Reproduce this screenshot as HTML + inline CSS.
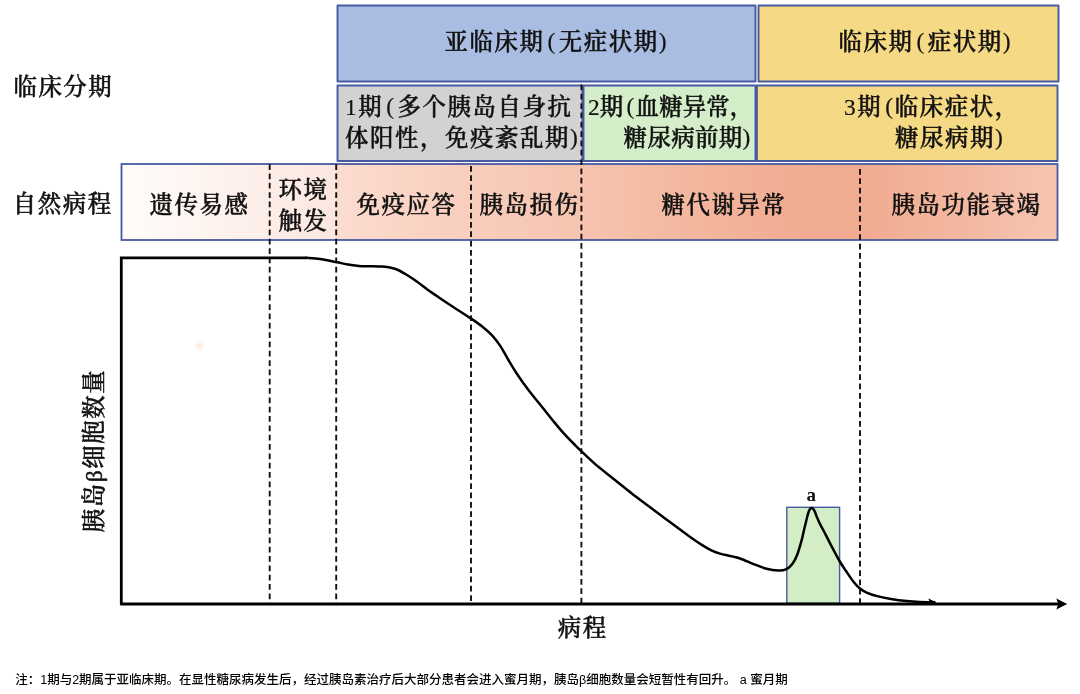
<!DOCTYPE html>
<html lang="zh-CN">
<head>
<meta charset="utf-8">
<title>1型糖尿病自然病程与临床分期</title>
<style>
html,body{margin:0;padding:0;background:#fff;}
body{width:1080px;height:694px;overflow:hidden;position:relative;}
svg{position:absolute;left:0;top:0;display:block;}
.s{font-family:"Liberation Serif","Noto Serif CJK SC",serif;font-weight:500;fill:#111;stroke:#111;stroke-width:0.5px;stroke-linejoin:round;}
.l{font-weight:400;stroke-width:0.2px;}
.n{font-family:"Liberation Sans","Noto Sans CJK SC",sans-serif;font-size:12.5px;fill:#000;font-weight:500;}
</style>
</head>
<body>
<svg width="1080" height="694" viewBox="0 0 1080 694">
<defs>
<linearGradient id="g3" gradientUnits="userSpaceOnUse" x1="121" y1="0" x2="1057" y2="0">
<stop offset="0.0000" stop-color="#fffdfc"/>
<stop offset="0.0844" stop-color="#fef4f0"/>
<stop offset="0.1592" stop-color="#fdede7"/>
<stop offset="0.2296" stop-color="#fce7e0"/>
<stop offset="0.2302" stop-color="#fbddd0"/>
<stop offset="0.2981" stop-color="#fad5c6"/>
<stop offset="0.3739" stop-color="#f8cebd"/>
<stop offset="0.4915" stop-color="#f6c4af"/>
<stop offset="0.6186" stop-color="#f3b69d"/>
<stop offset="0.7254" stop-color="#f1ac91"/>
<stop offset="0.7895" stop-color="#f1ab90"/>
<stop offset="0.8857" stop-color="#f3b69e"/>
<stop offset="1.0000" stop-color="#f6c5b2"/>
</linearGradient>
<radialGradient id="dot"><stop offset="0" stop-color="#fde5da"/><stop offset="0.5" stop-color="#fef5f1"/><stop offset="1" stop-color="#ffffff"/></radialGradient>
</defs>
<!-- row 1 -->
<rect x="337.5" y="5.5" width="418" height="76" fill="#a9bde2" stroke="#475aa1" stroke-width="1.9" stroke-linejoin="round"/>
<rect x="758.5" y="5.5" width="300" height="76" fill="#f5d984" stroke="#475aa1" stroke-width="1.9" stroke-linejoin="round"/>
<!-- row 2 -->
<rect x="337.5" y="85.5" width="245" height="75.5" fill="#d2d2d2" stroke="#475aa1" stroke-width="1.9" stroke-linejoin="round"/>
<rect x="583.5" y="85.5" width="172" height="75.5" fill="#d3eec9" stroke="#475aa1" stroke-width="1.9" stroke-linejoin="round"/>
<rect x="756.9" y="85.5" width="300.6" height="75.5" fill="#f5d984" stroke="#475aa1" stroke-width="1.9" stroke-linejoin="round"/>
<!-- row 3 -->
<rect x="121.5" y="164" width="936" height="76" fill="url(#g3)" stroke="#475aa1" stroke-width="1.8"/>
<!-- honeymoon box -->
<rect x="786.8" y="507.3" width="52.8" height="96" fill="#d3edc6" stroke="#475aa1" stroke-width="1.4"/>
<circle cx="199.7" cy="345.6" r="6.5" fill="url(#dot)"/>
<!-- dashed lines -->
<g stroke="#111" stroke-width="1.9" stroke-dasharray="5.75 3.58" fill="none">
<line x1="269.7" y1="164.2" x2="269.7" y2="603"/>
<line x1="336.2" y1="164.2" x2="336.2" y2="603"/>
<line x1="471" y1="166" x2="471" y2="603"/>
<line x1="581.4" y1="84.5" x2="581.4" y2="603"/>
<line x1="860" y1="169" x2="860" y2="603"/>
</g>
<!-- axes -->
<path d="M121.3 604 V257.8 H306.5" fill="none" stroke="#000" stroke-width="2.8" stroke-linejoin="miter"/>
<path d="M121.3 604 H1058" fill="none" stroke="#000" stroke-width="3" stroke-linecap="round"/>
<path d="M1067.2 604.1 L1056.3 598.6 L1058.3 604.1 L1056.3 609.6 Z" fill="#000"/>
<!-- curve -->
<path id="curve" d="M306.0 257.8 C308.3 258.0 315.0 258.2 320.0 258.9 C325.0 259.6 331.3 261.1 336.0 262.0 C340.7 262.9 344.2 263.9 348.0 264.6 C351.8 265.3 355.3 265.7 359.0 266.0 C362.7 266.3 366.2 266.1 370.0 266.2 C373.8 266.3 378.5 266.3 382.0 266.6 C385.5 266.9 388.3 267.2 391.0 267.8 C393.7 268.4 395.3 268.8 398.0 270.0 C400.7 271.2 403.9 273.1 407.0 275.0 C410.1 276.9 413.5 279.1 416.8 281.5 C420.1 283.9 423.6 286.7 427.0 289.2 C430.4 291.7 433.0 293.4 437.5 296.5 C442.0 299.6 448.4 303.9 454.0 307.5 C459.6 311.1 465.9 315.1 470.8 318.4 C475.7 321.7 479.5 324.3 483.1 327.2 C486.7 330.1 489.4 332.5 492.3 335.6 C495.2 338.8 497.7 342.0 500.4 346.1 C503.1 350.2 505.5 355.2 508.4 360.0 C511.3 364.8 514.2 369.8 517.7 375.0 C521.2 380.2 525.4 386.1 529.2 391.1 C533.0 396.1 536.9 400.4 540.7 405.2 C544.5 410.0 548.4 415.0 552.2 419.7 C556.1 424.4 559.9 429.1 563.8 433.4 C567.6 437.7 572.3 442.3 575.3 445.3 C578.2 448.3 577.8 447.9 581.5 451.3 C585.2 454.7 591.8 461.2 597.3 465.9 C602.8 470.6 608.9 475.1 614.6 479.7 C620.4 484.3 626.0 488.9 631.8 493.4 C637.5 497.9 643.3 502.1 649.1 506.5 C654.9 510.9 660.6 515.2 666.4 519.5 C672.2 523.8 677.9 528.1 683.7 532.3 C689.5 536.4 696.4 541.4 701.0 544.4 C705.6 547.4 708.2 548.8 711.4 550.3 C714.6 551.8 716.6 552.6 720.0 553.6 C723.4 554.6 728.5 555.5 732.0 556.4 C735.5 557.3 737.1 557.5 740.7 558.8 C744.3 560.1 749.3 562.4 753.6 564.1 C757.9 565.8 762.5 567.7 766.6 568.8 C770.7 569.9 774.8 570.5 778.1 570.6 C781.4 570.7 784.1 570.3 786.5 569.1 C788.9 567.9 790.9 566.1 792.7 563.6 C794.5 561.1 796.0 557.9 797.4 554.2 C798.8 550.5 800.3 545.2 801.4 541.2 C802.5 537.2 803.3 533.0 804.0 530.0 C804.7 527.0 805.1 525.6 805.6 523.5 C806.1 521.4 806.6 519.2 807.1 517.3 C807.6 515.4 808.1 513.4 808.6 512.0 C809.1 510.6 809.5 509.8 810.0 509.1 C810.5 508.5 811.1 508.1 811.6 508.1 C812.1 508.1 812.8 508.4 813.3 509.0 C813.8 509.6 814.3 510.4 814.9 511.8 C815.5 513.2 816.1 515.3 817.0 517.3 C817.9 519.3 818.9 521.8 820.0 524.0 C821.1 526.2 821.7 527.1 823.5 530.5 C825.3 533.9 828.0 539.5 830.7 544.6 C833.4 549.7 836.9 556.5 839.5 561.0 C842.1 565.5 844.4 568.5 846.6 571.8 C848.8 575.1 850.8 578.2 852.9 580.9 C855.0 583.6 856.9 586.0 859.3 588.0 C861.7 590.0 864.0 591.4 867.2 592.8 C870.4 594.2 874.3 595.4 878.3 596.4 C882.3 597.4 886.2 598.1 891.0 598.9 C895.8 599.7 902.0 600.5 906.8 601.0 C911.6 601.5 915.4 601.7 920.0 601.9 C924.6 602.1 932.0 602.2 934.4 602.2" fill="none" stroke="#000" stroke-width="2.5" stroke-linecap="round" stroke-linejoin="round"/>
<path d="M936.5 602.2 L928.3 598.6 L929.8 602.3 Z" fill="#000"/>
<!-- texts -->
<g class="s" font-size="23.4" letter-spacing="1.6">
<text x="13.4" y="94.6">临床分期</text>
<text x="12.7" y="211.8">自然病程</text>
<text x="444.5" y="50">亚临床期<tspan class="l" dx="3" dy="-1.2" letter-spacing="3.4">(</tspan><tspan dy="1.2">无症状期</tspan><tspan class="l" dy="-1.2">)</tspan></text>
<text x="838.5" y="50">临床期<tspan class="l" dx="3" dy="-1.2" letter-spacing="3.4">(</tspan><tspan dy="1.2">症状期</tspan><tspan class="l" dy="-1.2">)</tspan></text>
<text x="345" y="115"><tspan class="l">1</tspan>期<tspan class="l" dx="3" dy="-1.2" letter-spacing="3.4">(</tspan><tspan dy="1.2">多个胰岛自身抗</tspan></text>
<text x="345" y="146">体阳性，免疫紊乱期<tspan class="l" dy="-1.2">)</tspan></text>
<text x="588" y="115" letter-spacing="0.15"><tspan class="l">2</tspan>期<tspan class="l" dx="3" dy="-1.2" letter-spacing="1.4">(</tspan><tspan dy="1.2">血糖异常，</tspan></text>
<text x="623.6" y="146" letter-spacing="0.4">糖尿病前期<tspan class="l" dy="-1.2">)</tspan></text>
<text x="844" y="115"><tspan class="l">3</tspan>期<tspan class="l" dx="3" dy="-1.2" letter-spacing="1.6">(</tspan><tspan dy="1.2">临床症状，</tspan></text>
<text x="895" y="146">糖尿病期<tspan class="l" dy="-1.2">)</tspan></text>
<text x="149.5" y="213">遗传易感</text>
<text x="278.5" y="198">环境</text>
<text x="278.5" y="228.5">触发</text>
<text x="356.5" y="213">免疫应答</text>
<text x="479.5" y="213">胰岛损伤</text>
<text x="661.5" y="213">糖代谢异常</text>
<text x="891.5" y="213">胰岛功能衰竭</text>
<text x="557.7" y="636.2">病程</text>
<text transform="translate(102.2 532.3) rotate(-90)">胰岛β细胞数量</text>
</g>
<text x="811.3" y="500.6" text-anchor="middle" font-family="'Liberation Serif','Noto Serif CJK SC',serif" font-weight="bold" font-size="19" fill="#111">a</text>
<text class="n" x="15.2" y="683.8">注：1期与2期属于亚临床期。在显性糖尿病发生后，经过胰岛素治疗后大部分患者会进入蜜月期，胰岛β细胞数量会短暂性有回升。 a 蜜月期</text>
</svg>
</body>
</html>
